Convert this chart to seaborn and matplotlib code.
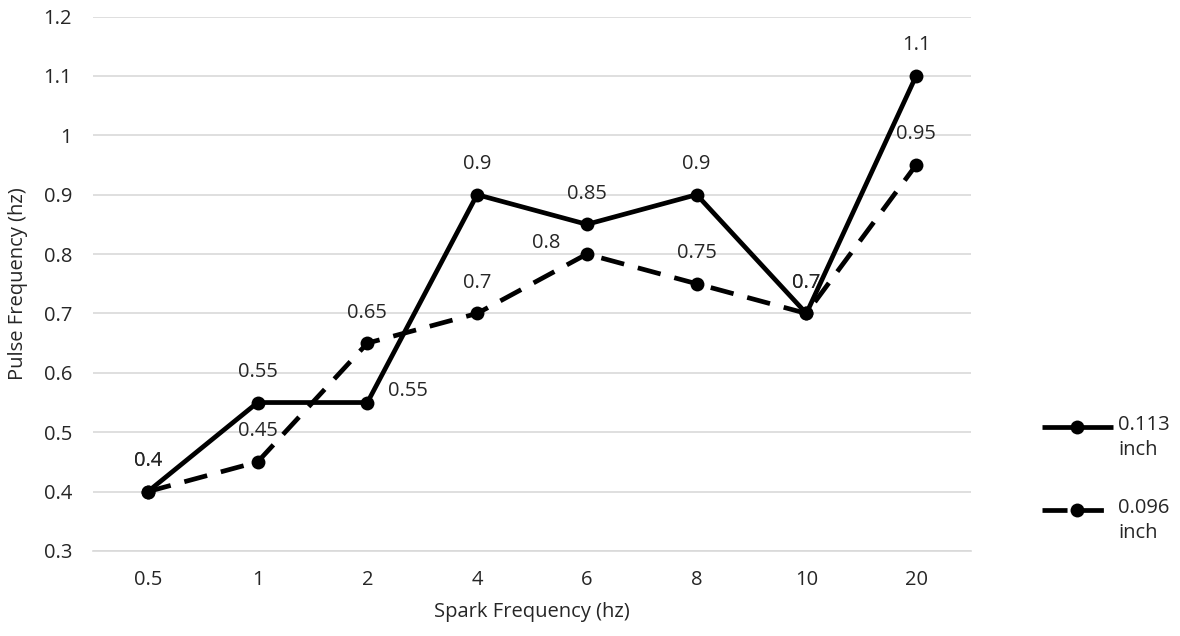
import matplotlib
matplotlib.use("Agg")
import matplotlib.pyplot as plt
from matplotlib.lines import Line2D
import seaborn as sns
import pandas as pd

categories = ["0.5", "1", "2", "4", "6", "8", "10", "20"]
series_names = ["0.113 inch", "0.096 inch"]
values_113 = [0.4, 0.55, 0.55, 0.9, 0.85, 0.9, 0.7, 1.1]
values_096 = [0.4, 0.45, 0.65, 0.7, 0.8, 0.75, 0.7, 0.95]
y_ticks = [0.3, 0.4, 0.5, 0.6, 0.7, 0.8, 0.9, 1.0, 1.1, 1.2]
y_tick_labels = ["0.3", "0.4", "0.5", "0.6", "0.7", "0.8", "0.9", "1", "1.1", "1.2"]
x_title = "Spark Frequency (hz)"
y_title = "Pulse Frequency (hz)"

sns.set_theme(style="white")
FONT = ["Open Sans", "DejaVu Sans"]
plt.rcParams["font.family"] = FONT
FS = 14.5
TC = "#262626"

df = pd.DataFrame({
    "x": categories * 2,
    "y": values_113 + values_096,
    "series": [series_names[0]] * len(categories) + [series_names[1]] * len(categories),
})

fig = plt.figure(figsize=(11.8, 6.36), dpi=100)
ax = fig.add_axes([93 / 1180, 1 - 551 / 636, 878 / 1180, 534.5 / 636])

LW = 3.4
MS = 10
DASH = (5, 3)
sns.lineplot(data=df, x="x", y="y", hue="series", style="series",
             palette=["black", "black"], dashes=["", DASH],
             markers=["o", "o"], markersize=MS, markeredgewidth=0,
             linewidth=LW, sort=False, legend=False, ax=ax, zorder=3)

ax.set_xlim(-0.5, len(categories) - 0.5)
ax.set_ylim(0.3, 1.2)
ax.set_yticks(y_ticks)
ax.set_yticklabels(y_tick_labels)
ax.yaxis.grid(True, color="#d9d9d9", linewidth=1.2)
ax.set_axisbelow(True)
for s in ["top", "right", "left"]:
    ax.spines[s].set_visible(False)
ax.spines["bottom"].set_color("#d9d9d9")
ax.spines["bottom"].set_linewidth(1.2)
ax.tick_params(axis="both", length=0, labelsize=FS, colors=TC)
ax.tick_params(axis="y", pad=15)
ax.tick_params(axis="x", pad=14)
ax.set_xlabel(x_title, fontsize=FS, color=TC, labelpad=8)
ax.set_ylabel(y_title, fontsize=FS, color=TC, labelpad=11)

def fmt(v):
    return "%g" % v

for i, v in enumerate(values_113):
    if i == 2:
        ax.annotate(fmt(v), (i, v), xytext=(15, 8), textcoords="offset points",
                    ha="left", va="center", fontsize=FS, color=TC)
    else:
        ax.annotate(fmt(v), (i, v), xytext=(0, 22), textcoords="offset points",
                    ha="center", va="center", fontsize=FS, color=TC)
for i, v in enumerate(values_096):
    if i == 4:
        ax.annotate(fmt(v), (i, v), xytext=(-19, 8), textcoords="offset points",
                    ha="right", va="center", fontsize=FS, color=TC)
    else:
        ax.annotate(fmt(v), (i, v), xytext=(0, 22), textcoords="offset points",
                    ha="center", va="center", fontsize=FS, color=TC)

# legend (manual, at right)
legend_styles = ["-", (0, (5.3, 2.4))]
legend_ends = [1113, 1106]
for k, (name, ls) in enumerate(zip(series_names, legend_styles)):
    yc = 1 - (427 + 83 * k) / 636
    fig.add_artist(Line2D([1042 / 1180, legend_ends[k] / 1180], [yc, yc],
                          transform=fig.transFigure, color="black",
                          linewidth=LW, linestyle=ls, solid_capstyle="butt",
                          dash_capstyle="butt"))
    fig.add_artist(Line2D([1077 / 1180], [yc], transform=fig.transFigure,
                          color="black", marker="o", markersize=MS, markeredgewidth=0,
                          linestyle="none"))
    fig.text(1118 / 1180, yc + 12 / 636, name.replace(" ", "\n"), ha="left", va="top",
             fontsize=FS, color=TC, linespacing=1.35, transform=fig.transFigure)

fig.savefig("out.png", dpi=100)
